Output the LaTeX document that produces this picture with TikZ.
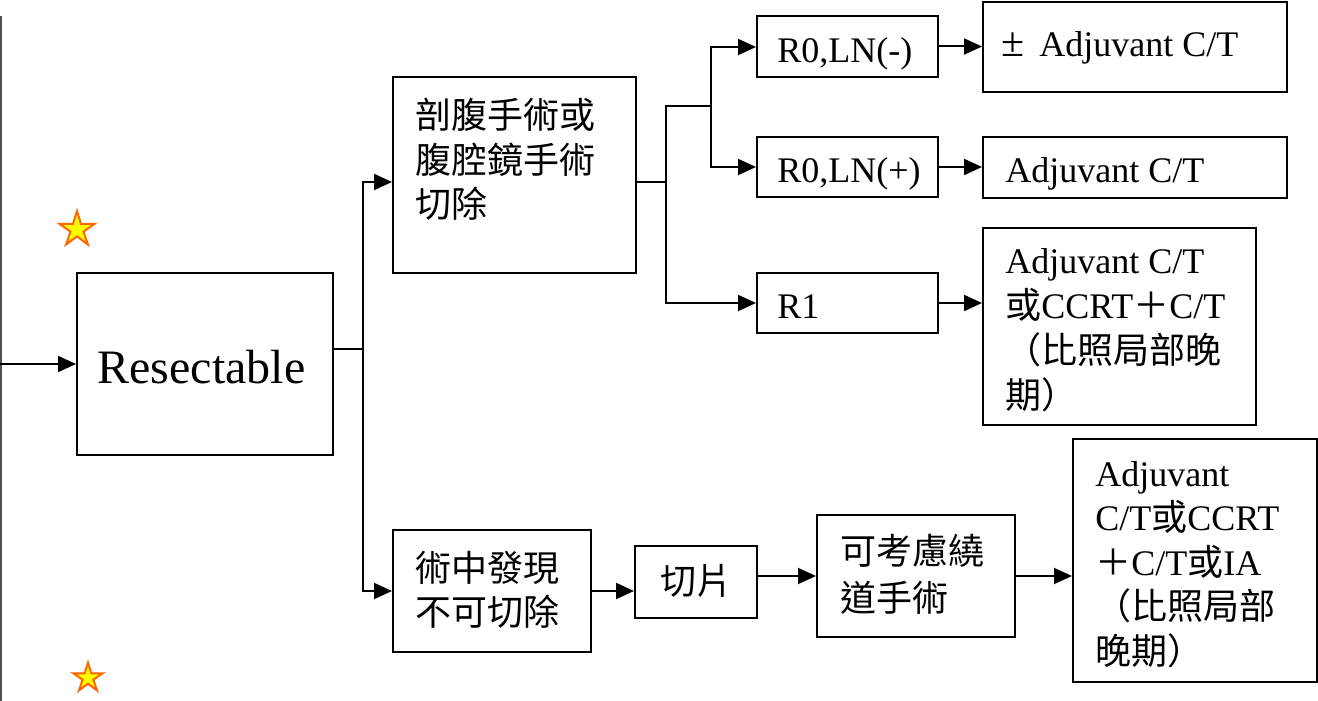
\documentclass[tikz,border=0pt]{standalone}
\usepackage{fontspec}
\setmainfont{Liberation Serif}
\newfontfamily\cjk{Noto Sans CJK TC}
\newcommand\zh[1]{{\cjk #1}}
\newcommand\tp{\rule{0pt}{20pt}}
\usetikzlibrary{arrows.meta,shapes.geometric,fit}
\definecolor{edgegray}{RGB}{80,80,80}
\definecolor{staryellow}{RGB}{255,255,0}
\definecolor{starorange}{RGB}{255,102,0}
\begin{document}
\begin{tikzpicture}[x=0.5pt,y=-0.5pt,
  box/.style={draw, line width=1pt, inner sep=0pt},
  txt/.style={inner sep=0pt, anchor=north west, align=left, font=\fontsize{18pt}{22.25pt}\selectfont},
  lab/.style={inner sep=0pt, anchor=base west, font=\fontsize{18pt}{22.25pt}\selectfont},
  conn/.style={line width=1pt},
  arr/.style={line width=1pt, -{Triangle[length=9pt,width=8pt]}},
  starmark/.style={star, star points=5, star point ratio=2.7, fill=staryellow, draw=starorange, line width=1pt, inner sep=0pt}]
\useasboundingbox (0,0) rectangle (1318,701);

% boxes
\node[box, fit={(77,273)(333,455)}] (res) {};
\node[box, fit={(393,77)(636,273)}] (b1) {};
\node[box, fit={(393,530)(591,652)}] (b2) {};
\node[box, fit={(757,16)(938,77)}] (r0n) {};
\node[box, fit={(757,137)(938,197)}] (r0p) {};
\node[box, fit={(757,273)(938,333)}] (r1) {};
\node[box, fit={(983,2)(1287,92)}] (a1) {};
\node[box, fit={(983,137)(1287,198)}] (a2) {};
\node[box, fit={(983,228)(1256,425)}] (a3) {};
\node[box, fit={(635,546)(757,618)}] (cut) {};
\node[box, fit={(817,515)(1015,637)}] (bypass) {};
\node[box, fit={(1073,439)(1317,682)}] (fin) {};

% texts
\node[lab, font=\fontsize{24pt}{28pt}\selectfont] (tres) at (97,383) {Resectable};
\node[txt] (tb1) at (415,88.5) {\tp\zh{剖腹手術或}\\\zh{腹腔鏡手術}\\\zh{切除}};
\node[txt] (tb2) at (415,541) {\tp\zh{術中發現}\\\zh{不可切除}};
\node[lab] (tcut) at (660,594) {\zh{切片}};
\node[txt, font=\fontsize{18pt}{23.5pt}\selectfont] (tbypass) at (840,524) {\tp\zh{可考慮繞}\\\zh{道手術}};
\node[lab] (tr0n) at (777,63) {R0,LN(-)};
\node[lab] (tr0p) at (777,183) {R0,LN(+)};
\node[lab] (tr1) at (777,318) {R1};
\node[lab] (ta1) at (1001,57) {{\fontsize{21pt}{22pt}\selectfont ±}\hspace{7.5pt}Adjuvant C/T};
\node[lab] (ta2) at (1005,183) {Adjuvant C/T};
\node[txt, font=\fontsize{18pt}{22.5pt}\selectfont] (ta3) at (1005,233) {\tp Adjuvant C/T\\\zh{或}CCRT\zh{＋}C/T\\\zh{（比照局部晚}\\\zh{期）}};
\node[txt] (tfin) at (1095,446) {\tp Adjuvant\\C/T\zh{或}CCRT\\\zh{＋}C/T\zh{或}IA\\\zh{（比照局部}\\\zh{晚期）}};

% stars
\node[starmark, minimum size=18.5pt] (s1) at (77,229.5) {};
\node[starmark, minimum size=15.3pt] (s2) at (88,678) {};

% left rule
\coordinate (lt) at (1,16);
\coordinate (lb) at (1,701);
\draw[line width=1pt, edgegray] (lt) -- (lb);

% connectors
\coordinate (in) at (0,364);
\draw[arr] (in) -- (res.west);
\coordinate (j1) at (363,349);
\coordinate (j1t) at (363,182);
\coordinate (j1b) at (363,591);
\draw[conn] (res.east |- j1) -- (j1);
\draw[arr] (j1) -- (j1t) -- (b1.west |- j1t);
\draw[arr] (j1) -- (j1b) -- (b2.west |- j1b);

\coordinate (j2) at (666,182);
\coordinate (j2t) at (666,106);
\coordinate (j2b) at (666,303);
\coordinate (j3) at (711,106);
\coordinate (j3t) at (711,47);
\coordinate (j3b) at (711,167);
\draw[conn] (b1.east |- j2) -- (j2);
\draw[conn] (j2) -- (j2t) -- (j3);
\draw[arr] (j2) -- (j2b) -- (r1.west |- j2b);
\draw[arr] (j3) -- (j3t) -- (r0n.west |- j3t);
\draw[arr] (j3) -- (j3b) -- (r0p.west |- j3b);

\draw[arr] (r0n.east) -- (a1.west |- r0n.east);
\draw[arr] (r0p.east) -- (a2.west |- r0p.east);
\draw[arr] (r1.east) -- (a3.west |- r1.east);

\draw[arr] (b2.east) -- (cut.west |- b2.east);
\draw[arr] (cut.east |- bypass.west) -- (bypass.west);
\draw[arr] (bypass.east) -- (fin.west |- bypass.east);
\end{tikzpicture}
\end{document}
